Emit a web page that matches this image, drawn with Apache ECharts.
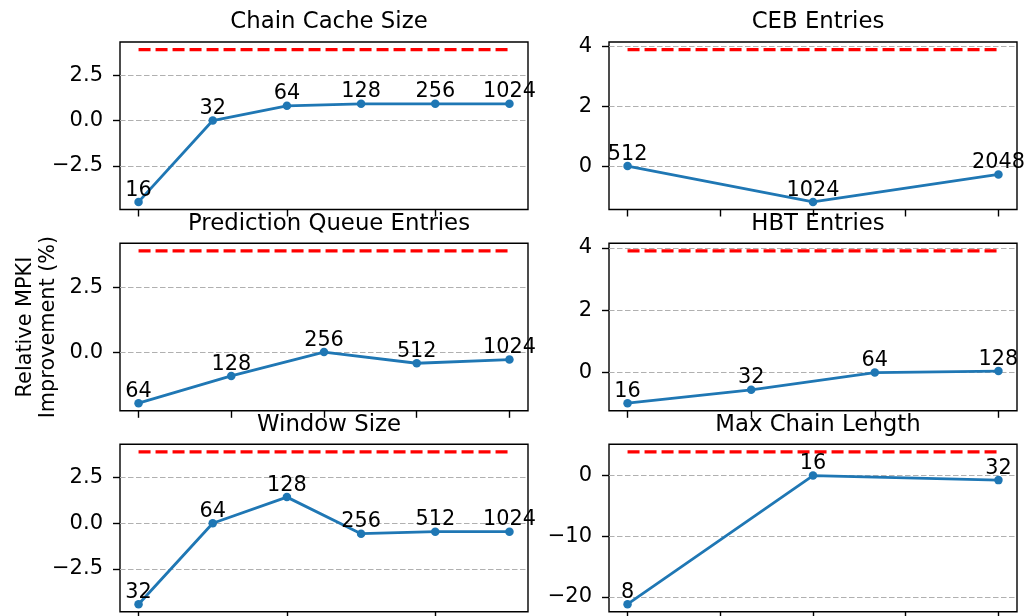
<!DOCTYPE html>
<html>
<head>
<meta charset="utf-8">
<script src="https://cdn.jsdelivr.net/npm/echarts@6/dist/echarts.min.js"></script>
<style>
  html, body { margin: 0; padding: 0; background: #fff; }
  #main { width: 1027px; height: 616px; }
</style>
</head>
<body>
<div id="main"></div>
<script>
// sweep results: labels shown above each point, values = relative MPKI improvement (%)
const titles = ['Chain Cache Size', 'CEB Entries', 'Prediction Queue Entries', 'HBT Entries', 'Window Size', 'Max Chain Length'];

const chainCacheSizes = ['16', '32', '64', '128', '256', '1024'];
const chainCacheVals = [-4.47, 0.0, 0.81, 0.92, 0.92, 0.92];

const cebSizes = ['512', '1024', '2048'];
const cebVals = [0.0, -1.2, -0.28];

const predQueueSizes = ['64', '128', '256', '512', '1024'];
const predQueueVals = [-1.97, -0.92, 0.0, -0.43, -0.29];

const hbtSizes = ['16', '32', '64', '128'];
const hbtVals = [-0.98, -0.55, 0.0, 0.05];

const windowSizes = ['32', '64', '128', '256', '512', '1024'];
const windowVals = [-4.42, 0.0, 1.43, -0.57, -0.46, -0.46];

const maxChainSizes = ['8', '16', '32'];
const maxChainVals = [-21.2, 0.0, -0.75];

// red dashed reference level
const idealVal = 3.9;

// tick positions (matplotlib auto ticks)
const xTicks = [[0, 2, 4], [0, 0.5, 1, 1.5, 2], [0, 1, 2, 3, 4], [0, 1, 2, 3], [0, 2, 4], [0, 0.5, 1, 1.5, 2]];
const yTicks = [[-2.5, 0, 2.5], [0, 2, 4], [0, 2.5], [0, 2, 4], [-2.5, 0, 2.5], [-20, -10, 0]];

const panels = [
  [chainCacheSizes, chainCacheVals],
  [cebSizes, cebVals],
  [predQueueSizes, predQueueVals],
  [hbtSizes, hbtVals],
  [windowSizes, windowVals],
  [maxChainSizes, maxChainVals]
];

const FONT = 'DejaVu Sans';
const FS = 20.8;
const colLeft = [120, 609];
const colWidth = [408, 408];
const rowTop = [42, 243.3, 444.3];
const rowHeight = 167.5;

const chart = echarts.init(document.getElementById('main'), null, {renderer: 'canvas'});

const grid = [], xAxis = [], yAxis = [], series = [], title = [];

panels.forEach(function (p, i) {
  const col = i % 2, row = Math.floor(i / 2);
  const labels = p[0], vals = p[1];
  const n = labels.length;
  grid.push({
    left: colLeft[col], top: rowTop[row], width: colWidth[col], height: rowHeight,
    show: true, borderColor: '#000', borderWidth: 1.4, backgroundColor: 'transparent'
  });
  title.push({
    text: titles[i],
    left: colLeft[col] + colWidth[col] / 2,
    textAlign: 'center',
    top: rowTop[row] - 36,
    textStyle: {fontFamily: FONT, fontSize: 22.8, fontWeight: 'normal', color: '#000'}
  });
  xAxis.push({
    type: 'value', gridIndex: i,
    min: -0.05 * (n - 1), max: (n - 1) * 1.05,
    axisLine: {show: false, onZero: false},
    axisTick: {show: true, inside: false, length: 7, customValues: xTicks[i], lineStyle: {color: '#000', width: 1.4}},
    axisLabel: {show: false},
    splitLine: {show: false}
  });
  yAxis.push({
    type: 'value', gridIndex: i,
    min: function (v) { return v.min - 0.05 * (v.max - v.min); },
    max: function (v) { return v.max + 0.05 * (v.max - v.min); },
    axisLine: {show: false, onZero: false},
    axisTick: {show: true, inside: false, length: 7, customValues: yTicks[i], lineStyle: {color: '#000', width: 1.4}},
    axisLabel: {
      show: true, customValues: yTicks[i], margin: 17,
      fontFamily: FONT, fontSize: 21, color: '#000',
      formatter: function (v) {
        const s = (yTicks[i].some(function (t) { return t % 1 !== 0; })) ? v.toFixed(1) : String(v);
        return s.replace('-', '\u2212');
      }
    },
    splitLine: {show: true, lineStyle: {color: '#b0b0b0', width: 1.1, type: [5.5, 2.5]}},
    name: i === 2 ? 'Relative MPKI\nImprovement (%)' : '',
    nameLocation: 'middle', nameRotate: 90, nameGap: 60,
    nameTextStyle: {fontFamily: FONT, fontSize: FS, color: '#000', lineHeight: 23}
  });
  series.push({
    type: 'line', xAxisIndex: i, yAxisIndex: i,
    data: vals.map(function (v, k) { return [k, v]; }),
    symbol: 'circle', symbolSize: 8.5,
    itemStyle: {color: '#1f77b4'},
    lineStyle: {color: '#1f77b4', width: 2.8},
    label: {
      show: true, position: 'top', distance: -3,
      fontFamily: FONT, fontSize: FS, color: '#000',
      formatter: function (prm) { return labels[prm.dataIndex]; }
    },
    z: 3, animation: false
  });
  series.push({
    type: 'line', xAxisIndex: i, yAxisIndex: i,
    data: labels.map(function (l, k) { return [k, idealVal]; }),
    symbol: 'none',
    lineStyle: {color: '#ff0000', width: 3.2, type: [12, 5]},
    z: 2, animation: false
  });
});

chart.setOption({
  backgroundColor: '#fff',
  animation: false,
  title: title,
  grid: grid,
  xAxis: xAxis,
  yAxis: yAxis,
  series: series
});

window.addEventListener('resize', function () { chart.resize(); });
</script>
</body>
</html>
